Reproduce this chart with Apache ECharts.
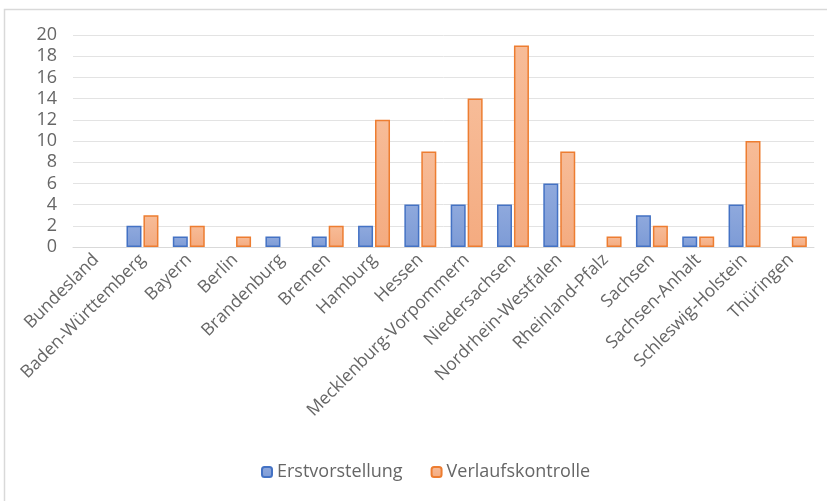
<!DOCTYPE html>
<html>
<head>
<meta charset="utf-8">
<script src="https://cdn.jsdelivr.net/npm/echarts@6/dist/echarts.min.js"></script>
<style>
  html, body { margin: 0; padding: 0; background: #fff; }
  #chart { width: 827px; height: 501px; }
</style>
</head>
<body>
<div id="chart"></div>
<script>
const categories = [
  "Bundesland", "Baden-Württemberg", "Bayern", "Berlin", "Brandenburg", "Bremen",
  "Hamburg", "Hessen", "Mecklenburg-Vorpommern", "Niedersachsen", "Nordrhein-Westfalen",
  "Rheinland-Pfalz", "Sachsen", "Sachsen-Anhalt", "Schleswig-Holstein", "Thüringen"
];
const erstvorstellung = [null, 2, 1, null, 1, 1, 2, 4, 4, 4, 6, null, 3, 1, 4, null];
const verlaufskontrolle = [null, 3, 2, 1, null, 2, 12, 9, 14, 19, 9, 1, 2, 1, 10, 1];

const FONT = "'Open Sans', sans-serif";
const TEXT = "#666666";

function fill(top, bottom) {
  return new echarts.graphic.LinearGradient(0, 0, 0, 1, [
    { offset: 0, color: top },
    { offset: 1, color: bottom }
  ]);
}

const chart = echarts.init(document.getElementById("chart"));
chart.setOption({
  animation: false,
  textStyle: { fontFamily: FONT },
  graphic: [{
    type: "rect",
    shape: { x: 4.5, y: 9.5, width: 840, height: 520 },
    style: { fill: "none", stroke: "#d9d9d9", lineWidth: 1.5 },
    silent: true
  }],
  grid: { left: 73, right: 13, top: 35, bottom: 254, containLabel: false },
  legend: {
    left: 256,
    top: 458,
    itemWidth: 10,
    itemHeight: 10,
    itemGap: 28,
    textStyle: { color: TEXT, fontSize: 18, fontFamily: FONT },
    data: ["Erstvorstellung", "Verlaufskontrolle"]
  },
  xAxis: {
    type: "category",
    data: categories,
    axisLine: { lineStyle: { color: "#d9d9d9", width: 1 } },
    axisTick: { show: false },
    axisLabel: { rotate: 45, interval: 0, color: TEXT, fontSize: 17.5, margin: 10 }
  },
  yAxis: {
    type: "value",
    min: 0,
    max: 20,
    interval: 2,
    axisLine: { show: false },
    axisTick: { show: false },
    splitLine: { lineStyle: { color: "#e3e3e3", width: 1 } },
    axisLabel: { color: TEXT, fontSize: 18, margin: 16 }
  },
  series: [
    {
      name: "Erstvorstellung",
      type: "bar",
      data: erstvorstellung,
      barWidth: 15,
      barGap: "13%",
      itemStyle: { color: fill("#8fa9dd", "#7d9bd6"), borderColor: "#4472c4", borderWidth: 1.5 }
    },
    {
      name: "Verlaufskontrolle",
      type: "bar",
      data: verlaufskontrolle,
      barWidth: 15,
      itemStyle: { color: fill("#f7bc98", "#f4ab80"), borderColor: "#ed7d31", borderWidth: 1.5 }
    }
  ]
});
</script>
</body>
</html>
